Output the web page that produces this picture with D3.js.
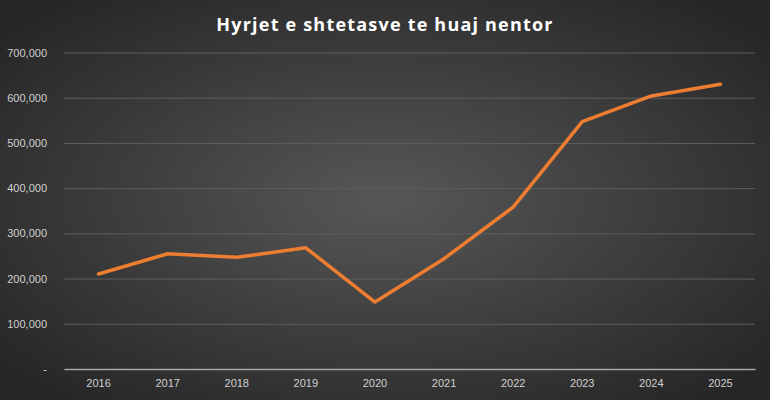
<!DOCTYPE html>
<html><head><meta charset="utf-8">
<script src="https://cdn.jsdelivr.net/npm/d3@7"></script>
<style>html,body{margin:0;padding:0;background:#2b2b2b;}svg{display:block;}</style>
</head><body>
<script>
const years = ["2016","2017","2018","2019","2020","2021","2022","2023","2024","2025"];
const arrivals = [210000,255000,247000,268000,148000,244000,358000,547000,604000,630000];
const yTicks = [0,100000,200000,300000,400000,500000,600000,700000];
const title = "Hyrjet e shtetasve te huaj nentor";

const W=770,H=400;
const svg=d3.select("body").append("svg").attr("width",W).attr("height",H);
const defs=svg.append("defs");
const rg=defs.append("radialGradient").attr("id","bg").attr("cx","50%").attr("cy","50%").attr("r","65%");
rg.append("stop").attr("offset","0%").attr("stop-color","#575757");
rg.append("stop").attr("offset","100%").attr("stop-color","#262626");
svg.append("rect").attr("width",W).attr("height",H).attr("fill","url(#bg)");

const x=d3.scaleBand().domain(years).range([64,755]);
const y=d3.scaleLinear().domain([0,700000]).range([369,52.5]);

svg.append("text").attr("x",385).attr("y",31).attr("text-anchor","middle")
  .attr("fill","#ffffff").attr("font-family","Open Sans, sans-serif").attr("font-weight","bold")
  .attr("font-size",18).attr("letter-spacing",1.2).text(title);

const ga=svg.append("g").attr("transform","translate(64,0)")
  .call(d3.axisLeft(y).tickValues(yTicks).tickSize(-691).tickFormat(d=>d===0?"-":d3.format(",")(d)));
ga.select(".domain").remove();
ga.selectAll(".tick line").attr("stroke","#5e5e5e").attr("stroke-width",1);
ga.selectAll(".tick text").attr("fill","#d0d0d0").attr("font-family","Liberation Sans, Arial, sans-serif")
  .attr("font-size",11).attr("x",-17);
ga.selectAll(".tick").filter(d=>d===0).select("line").remove();

const gx=svg.append("g").attr("transform","translate(0,369)")
  .call(d3.axisBottom(x).tickSize(0).tickPadding(10));
gx.select(".domain").attr("stroke","#a6a6a6").attr("stroke-width",1.3);
gx.selectAll(".tick text").attr("fill","#d0d0d0").attr("font-family","Liberation Sans, Arial, sans-serif").attr("font-size",11);

const line=d3.line().x((d,i)=>x(years[i])+x.bandwidth()/2).y(d=>y(d));
svg.append("path").datum(arrivals).attr("d",line).attr("fill","none")
  .attr("stroke","#ED7D31").attr("stroke-width",3.5).attr("stroke-linejoin","round").attr("stroke-linecap","round");
</script>
</body></html>
